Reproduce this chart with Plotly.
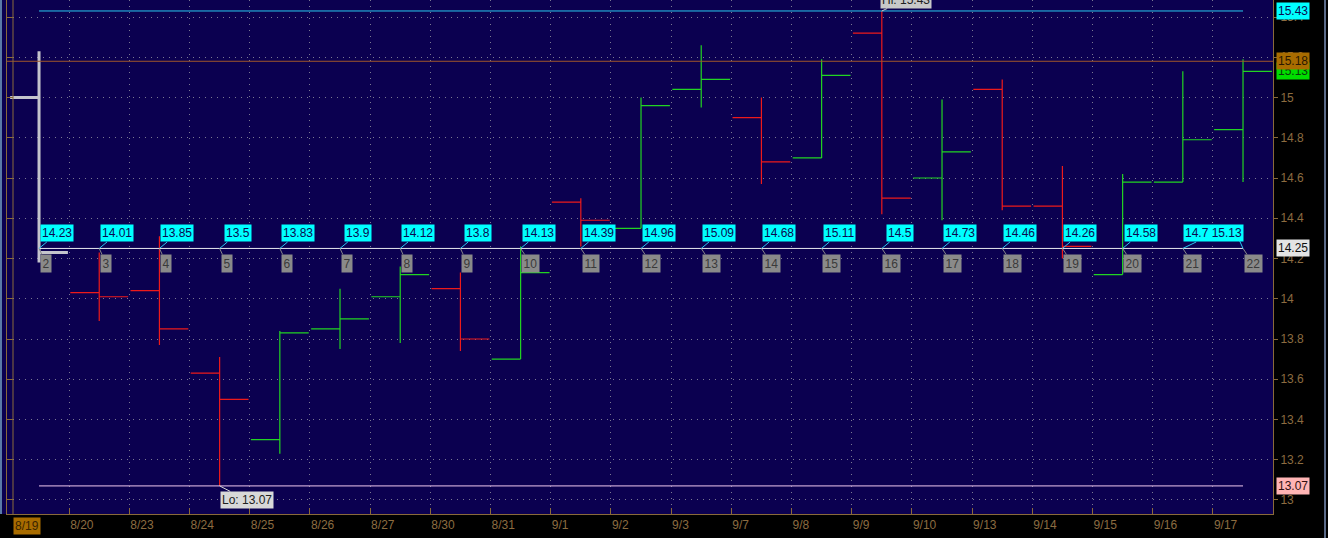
import plotly.graph_objects as go

# ---------------- data ----------------
dates = ["8/19", "8/20", "8/23", "8/24", "8/25", "8/26", "8/27", "8/30", "8/31", "9/1",
         "9/2", "9/3", "9/7", "9/8", "9/9", "9/10", "9/13", "9/14", "9/15", "9/16", "9/17"]
opens = [15.00, 14.03, 14.04, 13.63, 13.30, 13.85, 14.01, 14.05, 13.70, 14.48,
         14.35, 15.04, 14.90, 14.70, 15.32, 14.60, 15.04, 14.46, 14.12, 14.58, 14.84]
highs = [15.23, 14.23, 14.31, 13.71, 13.84, 14.05, 14.16, 14.13, 14.26, 14.50,
         15.00, 15.26, 15.00, 15.19, 15.43, 14.99, 15.09, 14.66, 14.62, 15.13, 15.19]
lows = [14.18, 13.89, 13.77, 13.07, 13.23, 13.75, 13.78, 13.74, 13.70, 14.26,
        14.35, 14.95, 14.57, 14.70, 14.42, 14.39, 14.44, 14.20, 14.12, 14.58, 14.58]
closes = [14.23, 14.01, 13.85, 13.50, 13.83, 13.90, 14.12, 13.80, 14.13, 14.39,
          14.96, 15.09, 14.68, 15.11, 14.50, 14.73, 14.46, 14.26, 14.58, 14.79, 15.13]
close_labels = ["14.23", "14.01", "13.85", "13.5", "13.83", "13.9", "14.12", "13.8", "14.13", "14.39",
                "14.96", "15.09", "14.68", "15.11", "14.5", "14.73", "14.46", "14.26", "14.58", "14.7 15.13", ""]
bar_numbers = [str(n) for n in range(2, 23)]

hi_level = 15.43
lo_level = 13.07
ref_level = 14.25
prev_close_level = 15.18
last_level = 15.13

y_ticks = [13.0, 13.2, 13.4, 13.6, 13.8, 14.0, 14.2, 14.4, 14.6, 14.8, 15.0, 15.2, 15.4]
y_ticktext = ["13", "13.2", "13.4", "13.6", "13.8", "14", "14.2", "14.4", "14.6", "14.8", "15", "15.2", "15.4"]

# ---------------- style ----------------
NAVY = "#0b0050"
BROWN = "#8a6a3a"
TXT = "#8c6c40"
GRID = "rgba(160,160,170,0.75)"
GRIDDASH = "1px,5px"
FONT = "Liberation Sans"

idx = list(range(len(dates)))
x_min, x_max = -0.532, 20.498
y_min, y_max = 12.9304, 15.4845

fig = go.Figure()

# selected (first) bar in grey
fig.add_trace(go.Ohlc(
    x=idx[:1], open=opens[:1], high=highs[:1], low=lows[:1], close=closes[:1],
    increasing=dict(line=dict(color="#c4c4cc", width=3)),
    decreasing=dict(line=dict(color="#c4c4cc", width=3)),
    tickwidth=0.48, showlegend=False, hoverinfo="skip"))

fig.add_trace(go.Ohlc(
    x=idx[1:], open=opens[1:], high=highs[1:], low=lows[1:], close=closes[1:],
    increasing=dict(line=dict(color="#22d422", width=1.2)),
    decreasing=dict(line=dict(color="#ee1a1a", width=1.2)),
    tickwidth=0.48, showlegend=False, hoverinfo="skip"))

# horizontal level lines spanning first to last bar
for lvl, col in [(hi_level, "#29c8f0"), (ref_level, "#e8e8f0"), (lo_level, "#f0c8f0")]:
    fig.add_trace(go.Scatter(x=[idx[0], idx[-1]], y=[lvl, lvl], mode="lines",
                             line=dict(color=col, width=1), showlegend=False, hoverinfo="skip"))

# dummy trace for left axis
fig.add_trace(go.Scatter(x=[None], y=[None], yaxis="y2", showlegend=False, hoverinfo="skip"))

annotations = []
# cyan close-price bubbles and grey bar numbers
for k in idx:
    txt = close_labels[k]
    if txt:
        wide = " " in txt
        annotations.append(dict(
            x=k, y=ref_level, xref="x", yref="y", text=txt, showarrow=True,
            arrowhead=0, arrowwidth=1, arrowcolor="#29c8f0",
            ax=31 if wide else 18, ay=-15, bgcolor="#00ffff", borderpad=1,
            font=dict(family=FONT, size=12, color="#0a0a50")))
    annotations.append(dict(
        x=k, y=ref_level, xref="x", yref="y", text=bar_numbers[k], showarrow=True,
        arrowhead=0, arrowwidth=1, arrowcolor="#8a8a8a",
        ax=7 if len(bar_numbers[k]) == 1 else 10, ay=15, bgcolor="#8a8a8a", borderpad=1.5,
        font=dict(family=FONT, size=12, color="#3a3a3a")))

# pointer from combined bubble to last bar
annotations.append(dict(x=idx[-1], y=ref_level, xref="x", yref="y", text="", showarrow=True,
                        arrowhead=0, arrowwidth=1, arrowcolor="#29c8f0", ax=-4, ay=-9))

# Lo / Hi bubbles
lo_idx = lows.index(min(lows))
hi_idx = highs.index(max(highs))
annotations.append(dict(x=lo_idx, y=lo_level, xref="x", yref="y", text="Lo: 13.07",
                        showarrow=True, arrowhead=0, arrowwidth=1, arrowcolor="#d8d8d8",
                        ax=27, ay=14, bgcolor="#d8d8d8", borderpad=1,
                        font=dict(family=FONT, size=12, color="#202020")))
annotations.append(dict(x=hi_idx, y=hi_level, xref="x", yref="y", text="Hi: 15.43",
                        showarrow=True, arrowhead=0, arrowwidth=1, arrowcolor="#c8c8c8",
                        ax=24, ay=-19, bgcolor="#c8c8c8", borderpad=1,
                        font=dict(family=FONT, size=12, color="#202020")))

# right-side price labels
for lvl, txt, bg, fc in [(hi_level, "15.43", "#00ffff", "#0a0a50"),
                         (last_level, "15.13", "#00dd00", "#0a3a0a"),
                         (prev_close_level, "15.18", "#a86c00", "#2a1800"),
                         (ref_level, "14.25", "#e4e4e4", "#101010"),
                         (lo_level, "13.07", "#ffb4b4", "#301010")]:
    annotations.append(dict(x=1, y=lvl, xref="paper", yref="y", text=txt, showarrow=False,
                            xanchor="left", xshift=3, bgcolor=bg, borderpad=1,
                            font=dict(family=FONT, size=12, color=fc)))

# highlighted first date label
annotations.append(dict(x=idx[0] - 0.5, y=0, xref="x", yref="paper", text=dates[0],
                        showarrow=False, xanchor="left", yanchor="top", xshift=4, yshift=-3,
                        bgcolor="#a86c00", borderpad=1,
                        font=dict(family=FONT, size=12, color="#3a2400")))

plot_w = 1328 - 7 - 55
shapes = [
    dict(type="line", xref="paper", yref="y", x0=0, x1=1, y0=prev_close_level, y1=prev_close_level,
         line=dict(color="#a0562a", width=1)),
    dict(type="rect", xref="paper", yref="paper", x0=-7 / plot_w, x1=0, y0=0, y1=1,
         fillcolor=NAVY, line=dict(width=0), layer="below"),
    dict(type="rect", xref="paper", yref="paper", x0=-7 / plot_w, x1=-5 / plot_w, y0=0, y1=1,
         fillcolor="#5a7aa8", line=dict(width=0)),
    dict(type="line", xref="paper", yref="paper", x0=6 / plot_w, x1=6 / plot_w, y0=0, y1=1,
         line=dict(color=BROWN, width=1)),
    dict(type="line", xref="paper", yref="paper", x0=1 + 52 / plot_w, x1=1 + 52 / plot_w, y0=-0.05, y1=1,
         line=dict(color="#5a6a88", width=2)),
]

fig.update_layout(
    width=1328, height=538,
    margin=dict(l=7, r=55, t=0, b=24, autoexpand=False),
    paper_bgcolor="#000000", plot_bgcolor=NAVY,
    showlegend=False,
    annotations=annotations, shapes=shapes,
    font=dict(family=FONT, size=12, color=TXT),
    xaxis=dict(
        range=[x_min, x_max], rangeslider=dict(visible=False),
        tickmode="array", tickvals=[k - 0.5 for k in idx[1:]], ticktext=dates[1:],
        ticklabelposition="outside right",
        ticks="inside", ticklen=6, tickcolor=BROWN,
        showline=True, linecolor=BROWN, linewidth=1,
        showgrid=True, gridcolor=GRID, griddash=GRIDDASH, gridwidth=1,
        zeroline=False, tickfont=dict(family=FONT, size=12, color=TXT),
    ),
    yaxis=dict(
        range=[y_min, y_max], side="right",
        tickmode="array", tickvals=y_ticks, ticktext=y_ticktext,
        ticks="outside", ticklen=4, tickcolor=BROWN,
        showline=True, linecolor=BROWN, linewidth=1,
        showgrid=True, gridcolor=GRID, griddash=GRIDDASH, gridwidth=1,
        zeroline=False, tickfont=dict(family=FONT, size=12, color=TXT),
    ),
    yaxis2=dict(
        range=[y_min, y_max], overlaying="y", side="left",
        tickmode="array", tickvals=y_ticks, showticklabels=False,
        ticks="inside", ticklen=6, tickcolor=BROWN,
        showline=True, linecolor=BROWN, linewidth=1,
        showgrid=False, zeroline=False,
    ),
)

fig.write_html("out.html", config={"displayModeBar": False},
               post_script="document.body.style.margin='0px';document.body.style.background='#000';")
